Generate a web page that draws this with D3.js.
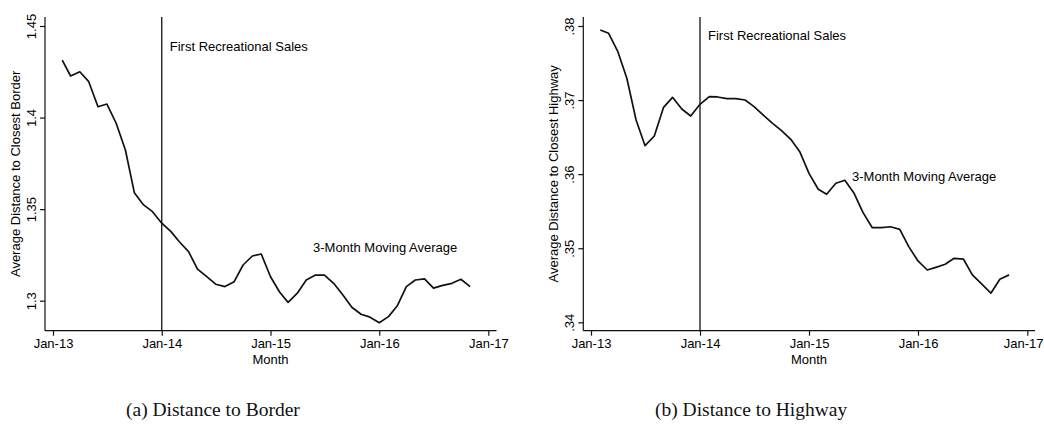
<!DOCTYPE html>
<html>
<head>
<meta charset="utf-8">
<script src="https://cdn.jsdelivr.net/npm/d3@7"></script>
<style>
  html, body { margin: 0; padding: 0; background: #fff; }
  svg { display: block; }
  .axis text { font-family: "Liberation Sans", Arial, sans-serif; font-size: 13px; fill: #000; }
  .axis path, .axis line { stroke: #111; stroke-width: 1.2px; }
  .lbl { font-family: "Liberation Sans", Arial, sans-serif; font-size: 13px; fill: #000; }
</style>
</head>
<body>
<svg id="chart" width="1044" height="424"></svg>
<script>
// ---- Data ----
const startMonth = "2013-02"; // first moving-average point (Feb-13), monthly through Nov-16
const xTickLabels = ["Jan-13", "Jan-14", "Jan-15", "Jan-16", "Jan-17"];
const eventLabel = "First Recreational Sales";
const seriesLabel = "3-Month Moving Average";
const xTitle = "Month";

const borderValues = [
  1.4314, 1.4227, 1.4250, 1.4196, 1.4059, 1.4074, 1.3969, 1.3823, 1.3590, 1.3523, 1.3486,
  1.3423, 1.3377, 1.3322, 1.3268, 1.3172, 1.3131, 1.3090, 1.3077, 1.3104, 1.3195, 1.3244, 1.3255,
  1.3131, 1.3046, 1.2991, 1.3041, 1.3113, 1.3140, 1.3140, 1.3095, 1.3031, 1.2964, 1.2926, 1.2910,
  1.2880, 1.2913, 1.2971, 1.3077, 1.3113, 1.3119, 1.3069, 1.3084, 1.3095, 1.3117, 1.3077
];
const borderTicks = [1.3, 1.35, 1.4, 1.45];
const borderTickLabels = ["1.3", "1.35", "1.4", "1.45"];
const borderTitle = "Average Distance to Closest Border";
const borderCaption = "(a) Distance to Border";

const highwayValues = [
  0.37946, 0.37901, 0.37653, 0.37294, 0.36731, 0.36384, 0.36515, 0.36902, 0.37037, 0.36880, 0.36785,
  0.36943, 0.37046, 0.37042, 0.37019, 0.37019, 0.37001, 0.36911, 0.36798, 0.36686, 0.36587, 0.36470, 0.36303,
  0.36011, 0.35796, 0.35728, 0.35877, 0.35917, 0.35741, 0.35480, 0.35277, 0.35277, 0.35290, 0.35255, 0.35022,
  0.34828, 0.34706, 0.34742, 0.34783, 0.34864, 0.34854, 0.34640, 0.34518, 0.34393, 0.34582, 0.34640
];
const highwayTicks = [0.34, 0.35, 0.36, 0.37, 0.38];
const highwayTickLabels = [".34", ".35", ".36", ".37", ".38"];
const highwayTitle = "Average Distance to Closest Highway";
const highwayCaption = "(b) Distance to Highway";

const eventDate = "2014-01";

// ---- Drawing ----
const parseM = d3.timeParse("%Y-%m");
const svg = d3.select("#chart");
const W = 1044;

function panel(cfg) {
  const g = svg.append("g");
  const x = d3.scaleTime()
    .domain([parseM("2013-01"), parseM("2017-01")])
    .range([cfg.x0, cfg.x1]);
  const y = d3.scaleLinear()
    .domain([cfg.ticks[0], cfg.ticks[cfg.ticks.length - 1]])
    .range([cfg.yBottomTick, cfg.yTopTick]);

  const start = parseM(startMonth);
  const data = cfg.values.map((v, i) => ({ date: d3.timeMonth.offset(start, i), v }));

  // y axis
  const yAxis = d3.axisLeft(y).tickValues(cfg.ticks)
    .tickFormat((d, i) => cfg.tickLabels[i]).tickSize(5).tickSizeOuter(0);
  const ya = g.append("g").attr("class", "axis").attr("transform", `translate(${cfg.axisX},0)`).call(yAxis);
  ya.select(".domain").remove();
  ya.append("line").attr("x1", 0).attr("x2", 0).attr("y1", cfg.plotTop).attr("y2", cfg.plotBottom)
    .attr("stroke", "#111").attr("stroke-width", 1.2);
  ya.selectAll(".tick text")
    .attr("transform", "rotate(-90)")
    .attr("x", 0).attr("y", -13).attr("dy", "0.32em")
    .style("text-anchor", "middle");

  // x axis
  const xAxis = d3.axisBottom(x)
    .tickValues(xTickLabels.map(s => d3.timeParse("%b-%y")(s)))
    .tickFormat((d, i) => xTickLabels[i]).tickSize(5).tickSizeOuter(0);
  const xa = g.append("g").attr("class", "axis").attr("transform", `translate(0,${cfg.plotBottom})`).call(xAxis);
  xa.select(".domain").remove();
  xa.append("line").attr("x1", cfg.axisX).attr("x2", cfg.axisEnd).attr("y1", 0).attr("y2", 0)
    .attr("stroke", "#111").attr("stroke-width", 1.2);
  xa.selectAll(".tick text").attr("y", 8).each(function (d) {
    // keep labels inside the page
    const bb = this.getBBox();
    const cx = x(d);
    const over = cx + bb.width / 2 - (W - 1);
    if (over > 0) d3.select(this).attr("x", -over);
  });

  // axis titles
  g.append("text").attr("class", "lbl")
    .attr("transform", `translate(${cfg.titleX},${(cfg.plotTop + cfg.plotBottom) / 2}) rotate(-90)`)
    .attr("text-anchor", "middle").attr("dy", "0.35em")
    .text(cfg.title);
  g.append("text").attr("class", "lbl")
    .attr("x", x(parseM("2015-01"))).attr("y", cfg.plotBottom + 33)
    .attr("text-anchor", "middle")
    .text(xTitle);

  // event line
  const ex = x(parseM(eventDate));
  g.append("line").attr("x1", ex).attr("x2", ex).attr("y1", cfg.plotTop).attr("y2", cfg.plotBottom)
    .attr("stroke", "#111").attr("stroke-width", 1.3);
  g.append("text").attr("class", "lbl").attr("x", ex + 8).attr("y", cfg.eventY).attr("dy", "0.35em")
    .text(eventLabel);

  // series
  const line = d3.line().x(d => x(d.date)).y(d => y(d.v));
  g.append("path").datum(data).attr("d", line)
    .attr("fill", "none").attr("stroke", "#111").attr("stroke-width", 1.7)
    .attr("stroke-linejoin", "round");
  g.append("text").attr("class", "lbl").attr("x", cfg.seriesX).attr("y", cfg.seriesY).attr("dy", "0.35em")
    .text(seriesLabel);

  // caption
  g.append("text").attr("x", cfg.capX).attr("y", 416)
    .style("font-family", "Liberation Serif, Times New Roman, serif").style("font-size", "19.5px")
    .style("fill", "#111")
    .text(cfg.caption);
}

panel({
  values: borderValues, ticks: borderTicks, tickLabels: borderTickLabels,
  title: borderTitle, caption: borderCaption,
  x0: 53, x1: 488.3, axisX: 45, axisEnd: 496.5,
  yBottomTick: 300.7, yTopTick: 26, plotTop: 17, plotBottom: 330.7,
  titleX: 15, eventY: 46, seriesX: 313, seriesY: 247, capX: 126
});
panel({
  values: highwayValues, ticks: highwayTicks, tickLabels: highwayTickLabels,
  title: highwayTitle, caption: highwayCaption,
  x0: 591, x1: 1027.3, axisX: 583.3, axisEnd: 1035,
  yBottomTick: 322.3, yTopTick: 26, plotTop: 17, plotBottom: 330.7,
  titleX: 553, eventY: 35, seriesX: 852, seriesY: 176, capX: 655
});
</script>
</body>
</html>
